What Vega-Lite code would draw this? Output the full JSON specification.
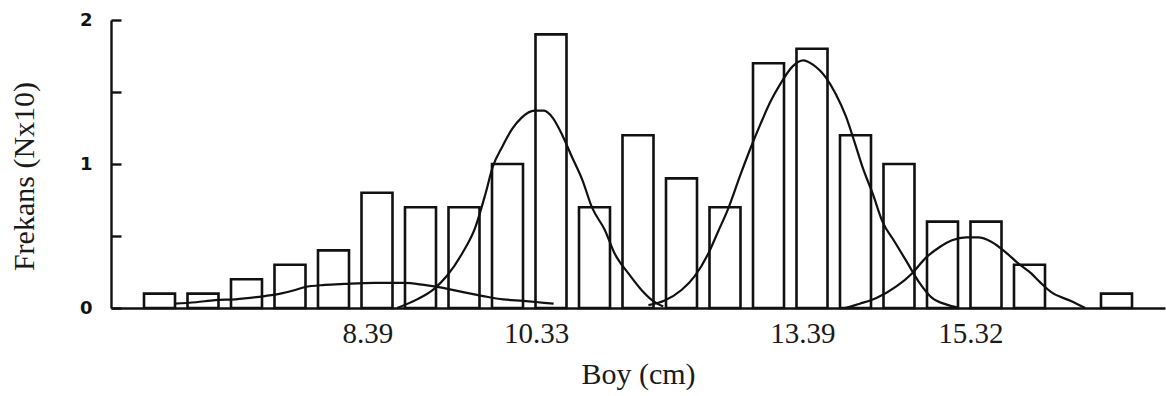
{
  "$schema": "https://vega.github.io/schema/vega-lite/v6.json",
  "width": 1054,
  "height": 288,
  "autosize": {"type": "none"},
  "padding": {"left": 111, "top": 20, "right": 1, "bottom": 88},
  "background": "white",
  "config": {"view": {"stroke": null}},
  "datasets": {
    "bars": [
      {"boy": 6.0, "frekans": 0.1},
      {"boy": 6.5, "frekans": 0.1},
      {"boy": 7.0, "frekans": 0.2},
      {"boy": 7.5, "frekans": 0.3},
      {"boy": 8.0, "frekans": 0.4},
      {"boy": 8.5, "frekans": 0.8},
      {"boy": 9.0, "frekans": 0.7},
      {"boy": 9.5, "frekans": 0.7},
      {"boy": 10.0, "frekans": 1.0},
      {"boy": 10.5, "frekans": 1.9},
      {"boy": 11.0, "frekans": 0.7},
      {"boy": 11.5, "frekans": 1.2},
      {"boy": 12.0, "frekans": 0.9},
      {"boy": 12.5, "frekans": 0.7},
      {"boy": 13.0, "frekans": 1.7},
      {"boy": 13.5, "frekans": 1.8},
      {"boy": 14.0, "frekans": 1.2},
      {"boy": 14.5, "frekans": 1.0},
      {"boy": 15.0, "frekans": 0.6},
      {"boy": 15.5, "frekans": 0.6},
      {"boy": 16.0, "frekans": 0.3},
      {"boy": 17.0, "frekans": 0.1}
    ],
    "curves": [
      {"grup": "a", "boy": 6.17, "frekans": 0.03},
      {"grup": "a", "boy": 6.42, "frekans": 0.04},
      {"grup": "a", "boy": 6.64, "frekans": 0.055},
      {"grup": "a", "boy": 6.87, "frekans": 0.06},
      {"grup": "a", "boy": 7.21, "frekans": 0.083},
      {"grup": "a", "boy": 7.39, "frekans": 0.1},
      {"grup": "a", "boy": 7.56, "frekans": 0.125},
      {"grup": "a", "boy": 7.67, "frekans": 0.145},
      {"grup": "a", "boy": 7.9, "frekans": 0.16},
      {"grup": "a", "boy": 8.13, "frekans": 0.167},
      {"grup": "a", "boy": 8.47, "frekans": 0.174},
      {"grup": "a", "boy": 8.81, "frekans": 0.174},
      {"grup": "a", "boy": 9.04, "frekans": 0.16},
      {"grup": "a", "boy": 9.26, "frekans": 0.14},
      {"grup": "a", "boy": 9.49, "frekans": 0.11},
      {"grup": "a", "boy": 9.72, "frekans": 0.083},
      {"grup": "a", "boy": 9.95, "frekans": 0.06},
      {"grup": "a", "boy": 10.18, "frekans": 0.05},
      {"grup": "a", "boy": 10.53, "frekans": 0.03},

      {"grup": "b", "boy": 8.73, "frekans": 0.0},
      {"grup": "b", "boy": 8.96, "frekans": 0.06},
      {"grup": "b", "boy": 9.15, "frekans": 0.13},
      {"grup": "b", "boy": 9.3, "frekans": 0.22},
      {"grup": "b", "boy": 9.48, "frekans": 0.38},
      {"grup": "b", "boy": 9.63, "frekans": 0.56},
      {"grup": "b", "boy": 9.75, "frekans": 0.8},
      {"grup": "b", "boy": 9.83, "frekans": 0.98},
      {"grup": "b", "boy": 9.94, "frekans": 1.12},
      {"grup": "b", "boy": 10.05, "frekans": 1.24},
      {"grup": "b", "boy": 10.16, "frekans": 1.32},
      {"grup": "b", "boy": 10.31, "frekans": 1.37},
      {"grup": "b", "boy": 10.42, "frekans": 1.37},
      {"grup": "b", "boy": 10.52, "frekans": 1.32},
      {"grup": "b", "boy": 10.63, "frekans": 1.2},
      {"grup": "b", "boy": 10.74, "frekans": 1.05},
      {"grup": "b", "boy": 10.86, "frekans": 0.89},
      {"grup": "b", "boy": 10.97, "frekans": 0.7},
      {"grup": "b", "boy": 11.12, "frekans": 0.54},
      {"grup": "b", "boy": 11.23, "frekans": 0.38},
      {"grup": "b", "boy": 11.39, "frekans": 0.24},
      {"grup": "b", "boy": 11.54, "frekans": 0.125},
      {"grup": "b", "boy": 11.66, "frekans": 0.055},
      {"grup": "b", "boy": 11.79, "frekans": 0.01},

      {"grup": "c", "boy": 11.62, "frekans": 0.02},
      {"grup": "c", "boy": 11.8, "frekans": 0.05},
      {"grup": "c", "boy": 12.0, "frekans": 0.125},
      {"grup": "c", "boy": 12.15, "frekans": 0.22},
      {"grup": "c", "boy": 12.31, "frekans": 0.38},
      {"grup": "c", "boy": 12.42, "frekans": 0.53},
      {"grup": "c", "boy": 12.53, "frekans": 0.68},
      {"grup": "c", "boy": 12.68, "frekans": 0.93},
      {"grup": "c", "boy": 12.8, "frekans": 1.12},
      {"grup": "c", "boy": 12.91, "frekans": 1.28},
      {"grup": "c", "boy": 13.02, "frekans": 1.43},
      {"grup": "c", "boy": 13.14, "frekans": 1.56},
      {"grup": "c", "boy": 13.28, "frekans": 1.68},
      {"grup": "c", "boy": 13.4, "frekans": 1.72},
      {"grup": "c", "boy": 13.51, "frekans": 1.69},
      {"grup": "c", "boy": 13.66, "frekans": 1.6},
      {"grup": "c", "boy": 13.77, "frekans": 1.49},
      {"grup": "c", "boy": 13.89, "frekans": 1.33},
      {"grup": "c", "boy": 13.99, "frekans": 1.15},
      {"grup": "c", "boy": 14.08, "frekans": 0.98},
      {"grup": "c", "boy": 14.2, "frekans": 0.79},
      {"grup": "c", "boy": 14.31, "frekans": 0.6},
      {"grup": "c", "boy": 14.45, "frekans": 0.46},
      {"grup": "c", "boy": 14.59, "frekans": 0.32},
      {"grup": "c", "boy": 14.73, "frekans": 0.18},
      {"grup": "c", "boy": 14.88, "frekans": 0.07},
      {"grup": "c", "boy": 15.04, "frekans": 0.025},
      {"grup": "c", "boy": 15.19, "frekans": 0.0},

      {"grup": "d", "boy": 13.88, "frekans": 0.0},
      {"grup": "d", "boy": 14.05, "frekans": 0.03},
      {"grup": "d", "boy": 14.24, "frekans": 0.07},
      {"grup": "d", "boy": 14.47, "frekans": 0.15},
      {"grup": "d", "boy": 14.65, "frekans": 0.24},
      {"grup": "d", "boy": 14.81, "frekans": 0.35},
      {"grup": "d", "boy": 14.96, "frekans": 0.42},
      {"grup": "d", "boy": 15.11, "frekans": 0.47},
      {"grup": "d", "boy": 15.27, "frekans": 0.49},
      {"grup": "d", "boy": 15.41, "frekans": 0.49},
      {"grup": "d", "boy": 15.56, "frekans": 0.46},
      {"grup": "d", "boy": 15.72, "frekans": 0.39},
      {"grup": "d", "boy": 15.87, "frekans": 0.31},
      {"grup": "d", "boy": 16.02, "frekans": 0.24},
      {"grup": "d", "boy": 16.12, "frekans": 0.18},
      {"grup": "d", "boy": 16.25, "frekans": 0.11},
      {"grup": "d", "boy": 16.47, "frekans": 0.05},
      {"grup": "d", "boy": 16.64, "frekans": 0.0}
    ]
  },
  "layer": [
    {
      "data": {"name": "bars"},
      "mark": {"type": "bar", "width": 31, "fill": "transparent", "stroke": "#111111", "strokeWidth": 2.6},
      "encoding": {
        "x": {
          "field": "boy",
          "type": "quantitative",
          "scale": {"domain": [5.5, 17.5], "nice": false, "zero": false},
          "axis": {
            "title": "Boy (cm)",
            "values": [8.39, 10.33, 13.39, 15.32],
            "format": ".2f",
            "ticks": false,
            "grid": false,
            "domainColor": "#111111",
            "domainWidth": 2.6,
            "labelFont": "Liberation Serif",
            "labelFontSize": 29,
            "labelColor": "#1a1a1a",
            "labelBaseline": "alphabetic",
            "labelPadding": 34,
            "labelFlush": false,
            "labelOverlap": false,
            "titleFont": "Liberation Serif",
            "titleFontSize": 30,
            "titleFontWeight": "normal",
            "titleColor": "#1a1a1a",
            "titleBaseline": "alphabetic",
            "titleX": 527,
            "titleY": 75
          }
        },
        "y": {
          "field": "frekans",
          "type": "quantitative",
          "scale": {"domain": [0, 2], "nice": false},
          "axis": {
            "title": "Frekans (Nx10)",
            "values": [0, 0.5, 1, 1.5, 2],
            "labelExpr": "datum.value % 1 === 0 ? format(datum.value, 'd') : ''",
            "grid": false,
            "domainColor": "#111111",
            "domainWidth": 2.4,
            "tickColor": "#111111",
            "tickWidth": 2.4,
            "tickSize": -10,
            "labelFont": "DejaVu Sans",
            "labelFontWeight": "bold",
            "labelFontSize": 18,
            "labelColor": "#111111",
            "labelPadding": 29,
            "labelFlush": false,
            "labelOverlap": false,
            "titleFont": "Liberation Serif",
            "titleFontSize": 30,
            "titleFontWeight": "normal",
            "titleColor": "#1a1a1a",
            "titleAngle": -90,
            "titleBaseline": "alphabetic",
            "titleX": -78,
            "titleY": 156
          }
        }
      }
    },
    {
      "data": {"name": "curves"},
      "mark": {"type": "line", "interpolate": "monotone", "stroke": "#111111", "strokeWidth": 2.2},
      "encoding": {
        "x": {"field": "boy", "type": "quantitative"},
        "y": {"field": "frekans", "type": "quantitative"},
        "detail": {"field": "grup"}
      }
    }
  ]
}
